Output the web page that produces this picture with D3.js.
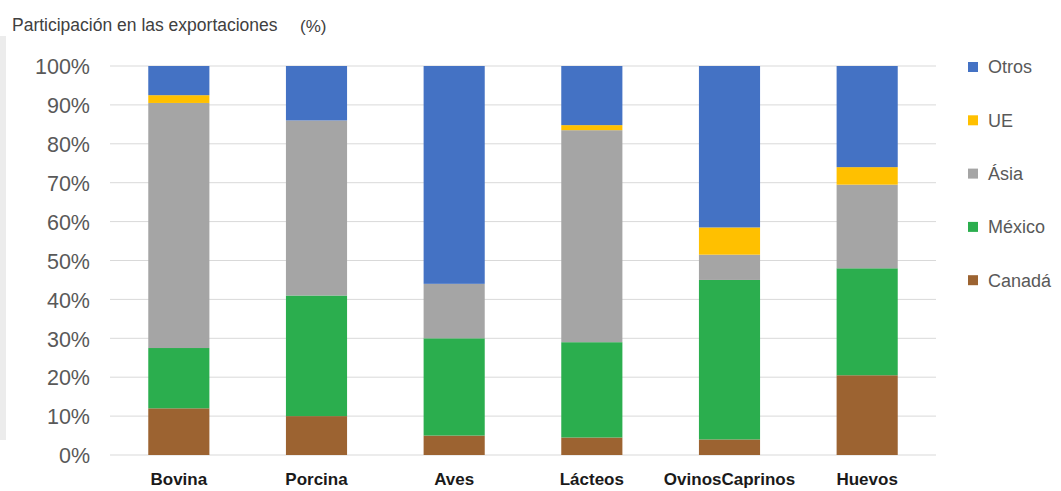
<!DOCTYPE html>
<html>
<head>
<meta charset="utf-8">
<script src="https://cdn.jsdelivr.net/npm/d3@7"></script>
<style>
  body { margin: 0; background: #fff; }
  text { font-family: "Liberation Sans", Arial, sans-serif; }
</style>
</head>
<body>
<div id="chart"></div>
<script>
const categories = ['Bovina', 'Porcina', 'Aves', 'Lácteos', 'OvinosCaprinos', 'Huevos'];
const seriesNames = ['Canadá', 'México', 'Ásia', 'UE', 'Otros'];
const canada = [12, 10, 5, 4.5, 4, 20.5];
const mexico = [15.5, 31, 25, 24.5, 41, 27.5];
const asia = [63, 45, 14, 54.5, 6.5, 21.5];
const ue = [2, 0, 0, 1.3, 7, 4.5];
const otros = [7.5, 14, 56, 15.2, 41.5, 26];
const yTicks = [0, 10, 20, 30, 40, 50, 60, 70, 80, 90, 100];
const colors = ['#9c6331', '#2bae4e', '#a5a5a5', '#ffc000', '#4472c4'];

const width = 1061;
const height = 491;

const rows = categories.map((c, i) => ({
    cat: c,
    'Canadá': canada[i],
    'México': mexico[i],
    'Ásia': asia[i],
    'UE': ue[i],
    'Otros': otros[i]
}));

const svg = d3
    .select('#chart')
    .append('svg')
    .attr('width', width)
    .attr('height', height);

// franja gris del borde izquierdo
svg.append('rect')
    .attr('x', 0).attr('y', 36)
    .attr('width', 6).attr('height', 404)
    .attr('fill', '#ececec');

const x = d3
    .scaleBand()
    .domain(categories)
    .range([110, 936])
    .paddingInner(0.556)
    .paddingOuter(0.278);

const y = d3
    .scaleLinear()
    .domain([0, 100])
    .range([455, 66]);

// líneas de la cuadrícula
svg.append('g')
    .selectAll('line')
    .data(yTicks)
    .join('line')
    .attr('x1', 110)
    .attr('x2', 936)
    .attr('y1', d => y(d))
    .attr('y2', d => y(d))
    .attr('stroke', '#d9d9d9')
    .attr('stroke-width', 1);

const yAxis = svg.append('g')
    .attr('transform', 'translate(88,0)')
    .call(d3.axisLeft(y).tickValues(yTicks).tickFormat(d => d + '%').tickSize(0).tickPadding(0));
yAxis.select('.domain').remove();
yAxis.selectAll('text')
    .attr('font-size', 21.5)
    .attr('fill', '#595959')
    .attr('font-family', '"Liberation Sans", Arial, sans-serif')
    .attr('dx', 2)
    .attr('dy', '0.36em');

const stack = d3.stack().keys(seriesNames);
const layers = stack(rows);

svg.append('g')
    .selectAll('g')
    .data(layers)
    .join('g')
    .attr('fill', (d, i) => colors[i])
    .selectAll('rect')
    .data(d => d)
    .join('rect')
    .attr('x', d => x(d.data.cat))
    .attr('y', d => y(d[1]))
    .attr('width', x.bandwidth())
    .attr('height', d => y(d[0]) - y(d[1]));

const xAxis = svg.append('g')
    .attr('transform', 'translate(0,471)')
    .call(d3.axisBottom(x).tickSize(0).tickPadding(0));
xAxis.select('.domain').remove();
xAxis.selectAll('text')
    .attr('font-size', 17)
    .attr('font-weight', 'bold')
    .attr('fill', '#1a1a1a')
    .attr('font-family', '"Liberation Sans", Arial, sans-serif')
    .attr('dy', '0.8em');

// título
svg.append('text')
    .attr('x', 12)
    .attr('y', 31)
    .attr('font-size', 17.5)
    .attr('fill', '#404040')
    .text('Participación en las exportaciones');
svg.append('text')
    .attr('x', 300)
    .attr('y', 32)
    .attr('font-size', 17)
    .attr('fill', '#404040')
    .text('(%)');

// leyenda
const legendNames = seriesNames.slice().reverse();
const legendColors = colors.slice().reverse();
const legend = svg.append('g')
    .selectAll('g')
    .data(legendNames)
    .join('g')
    .attr('transform', (d, i) => `translate(968, ${67 + i * 53.3})`);
legend.append('rect')
    .attr('x', 0)
    .attr('y', -5)
    .attr('width', 10)
    .attr('height', 10)
    .attr('fill', (d, i) => legendColors[i]);
legend.append('text')
    .attr('x', 20)
    .attr('y', 0)
    .attr('dy', '0.36em')
    .attr('font-size', 18)
    .attr('fill', '#595959')
    .text(d => d);
</script>
</body>
</html>
